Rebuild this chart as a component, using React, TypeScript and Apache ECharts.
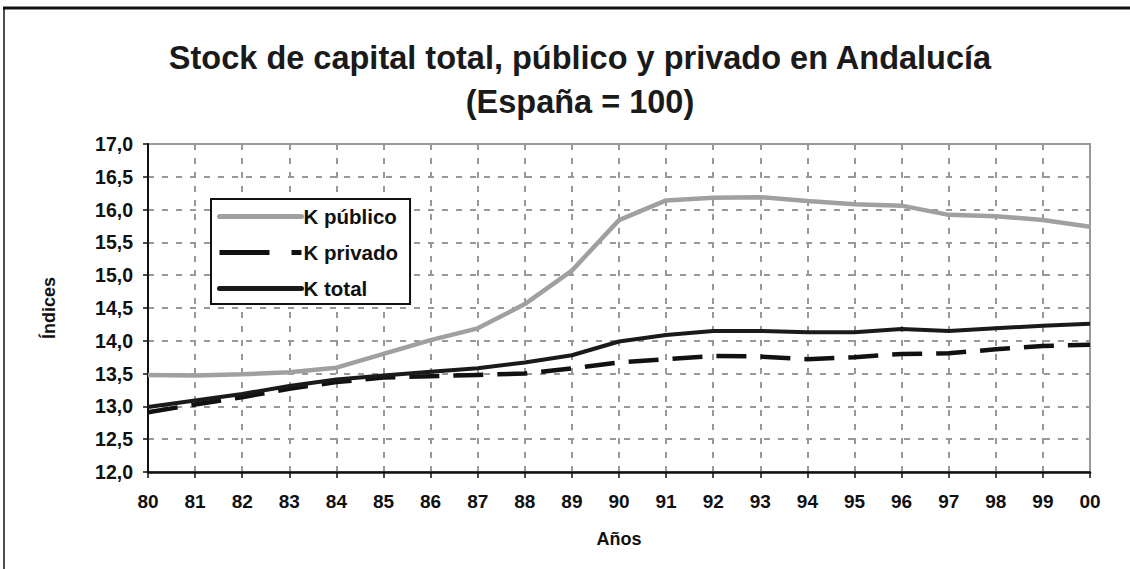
import React, { useEffect, useRef } from "react";
import * as echarts from "echarts";

const years = ["80","81","82","83","84","85","86","87","88","89","90","91","92","93","94","95","96","97","98","99","00"];
const kPublico = [13.48,13.47,13.49,13.52,13.59,13.80,14.01,14.19,14.56,15.07,15.84,16.14,16.18,16.19,16.13,16.08,16.06,15.92,15.90,15.84,15.74];
const kPrivado = [12.91,13.03,13.14,13.27,13.37,13.44,13.46,13.48,13.50,13.58,13.67,13.72,13.77,13.76,13.72,13.75,13.80,13.81,13.87,13.92,13.94];
const kTotal = [12.99,13.09,13.19,13.31,13.41,13.47,13.53,13.58,13.67,13.78,13.99,14.09,14.15,14.15,14.13,14.13,14.18,14.15,14.19,14.23,14.26];
const seriesNames = ["K público", "K privado", "K total"];

const FONT = "Liberation Sans, Arial, sans-serif";

export default function App() {
  const ref = useRef<HTMLDivElement>(null);
  useEffect(() => {
    if (!ref.current) return;
    const chart = echarts.init(ref.current, null, { renderer: "svg" });
    chart.setOption({
      animation: false,
      backgroundColor: "#ffffff",
      title: {
        text: "Stock de capital total, público y privado en Andalucía\n(España = 100)",
        left: 575,
        textAlign: "center",
        top: 31,
        textStyle: { fontFamily: FONT, fontWeight: "bold", fontSize: 32.5, lineHeight: 44, color: "#1a1a1a" },
      },
      graphic: [
        { type: "line", shape: { x1: 3, y1: 8, x2: 1130, y2: 8 }, style: { stroke: "#111", lineWidth: 3 } },
        { type: "line", shape: { x1: 4, y1: 8, x2: 4, y2: 569 }, style: { stroke: "#111", lineWidth: 1.5 } },
      ],
      legend: {
        left: 211,
        top: 199,
        orient: "vertical",
        data: [
          { name: seriesNames[0] },
          { name: seriesNames[1], lineStyle: { type: [50, 22], cap: "butt" } },
          { name: seriesNames[2] },
        ],
        itemWidth: 82,
        itemHeight: 14,
        itemGap: 15,
        padding: [7, 12, 5, 6],
        borderColor: "#111",
        borderWidth: 2,
        backgroundColor: "#fff",
        itemStyle: { opacity: 0 },
        lineStyle: { width: 5, cap: "round" },
        textStyle: { fontFamily: FONT, fontWeight: "bold", fontSize: 20.5, color: "#111", padding: [0, 0, 0, -3] },
      },
      grid: {
        left: 148,
        right: 40,
        top: 144,
        bottom: 97,
        show: true,
        borderColor: "#999",
        borderWidth: 2,
      },
      xAxis: {
        type: "category",
        data: years,
        boundaryGap: false,
        name: "Años",
        nameLocation: "middle",
        nameGap: 58,
        nameTextStyle: { fontFamily: FONT, fontWeight: "bold", fontSize: 18, color: "#111" },
        axisLine: { lineStyle: { color: "#111", width: 2.5 } },
        axisTick: { show: true, length: 6, lineStyle: { color: "#111", width: 1.5 } },
        axisLabel: { margin: 20, fontFamily: FONT, fontWeight: "bold", fontSize: 19, color: "#111" },
        splitLine: { show: true, lineStyle: { color: "#999", width: 2, type: [6, 8] } },
      },
      yAxis: {
        type: "value",
        min: 12,
        max: 17,
        interval: 0.5,
        name: "Índices",
        nameLocation: "middle",
        nameGap: 90,
        nameTextStyle: { fontFamily: FONT, fontWeight: "bold", fontSize: 18, color: "#111" },
        axisLine: { show: true, lineStyle: { color: "#111", width: 2 } },
        axisTick: { show: true, length: 5, lineStyle: { color: "#111", width: 1.5 } },
        axisLabel: {
          margin: 15,
          fontFamily: FONT,
          fontWeight: "bold",
          fontSize: 19.5,
          color: "#111",
          formatter: (v: number) => v.toFixed(1).replace(".", ","),
        },
        splitLine: { show: true, lineStyle: { color: "#999", width: 2, type: [6, 8] } },
      },
      series: [
        {
          name: seriesNames[0],
          type: "line",
          data: kPublico,
          symbol: "none",
          lineStyle: { color: "#a0a0a0", width: 4.5 },
          itemStyle: { color: "#a0a0a0" },
        },
        {
          name: seriesNames[1],
          type: "line",
          data: kPrivado,
          symbol: "none",
          lineStyle: { color: "#111", width: 4.5, type: [30, 14] },
          itemStyle: { color: "#111" },
        },
        {
          name: seriesNames[2],
          type: "line",
          data: kTotal,
          symbol: "none",
          lineStyle: { color: "#1a1a1a", width: 4 },
          itemStyle: { color: "#1a1a1a" },
        },
      ],
    });
    return () => chart.dispose();
  }, []);
  return <div ref={ref} style={{ position: "fixed", left: 0, top: 0, width: 1130, height: 569 }} />;
}
